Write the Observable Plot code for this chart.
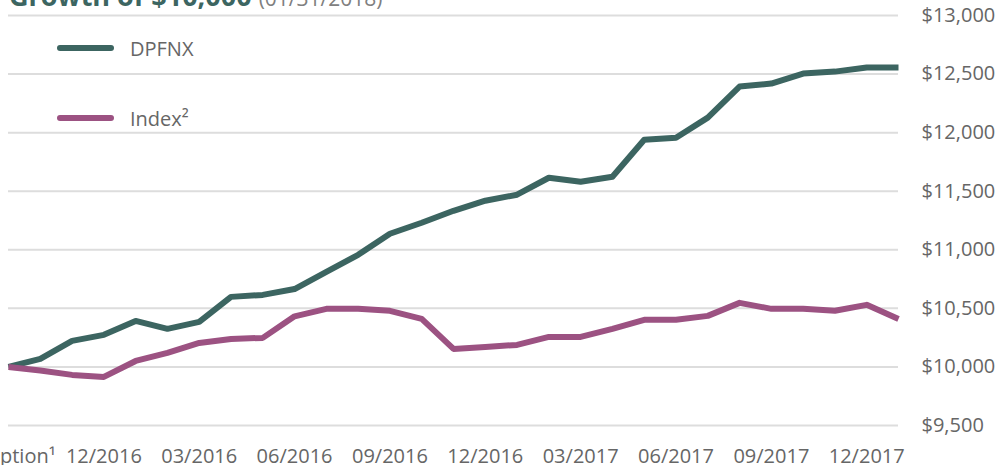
<!DOCTYPE html>
<html><head><meta charset="utf-8">
<script src="https://cdn.jsdelivr.net/npm/d3@7"></script>
<script src="https://cdn.jsdelivr.net/npm/@observablehq/plot@0.6"></script>
<style>
body{margin:0;background:#fff;font-family:"Open Sans",sans-serif;overflow:hidden}
#wrap{position:relative;width:1000px;height:465px;overflow:hidden}
#title{position:absolute;left:9px;top:-18px;font-size:27px;line-height:1;white-space:nowrap;color:#3c6561;font-weight:700}
#title span{font-weight:400;color:#808080;font-size:21px}
.leg{position:absolute;left:56px;height:24px;display:flex;align-items:center;font-size:20px;color:#666;white-space:nowrap}
.leg svg{margin-right:15px}
</style></head>
<body>
<div id="wrap">
<div id="chart"></div>
<div id="title">Growth of $10,000 <span>(01/31/2018)</span></div>
<div id="legend"></div>
</div>
<script>
const seriesNames = ["DPFNX", "Index²"];
const seriesColors = ["#3c6561", "#9c5282"];
const dpfnx = [10000,10068,10222,10274,10393,10325,10385,10598,10615,10665,10812,10957,11137,11231,11333,11419,11470,11615,11581,11624,11940,11957,12128,12393,12419,12504,12521,12556,12556];
const indexVals = [10000,9970,9932,9915,10051,10120,10205,10239,10248,10432,10496,10496,10479,10410,10154,10171,10188,10256,10256,10325,10402,10402,10436,10547,10496,10496,10479,10530,10410];
const xTickPos = [0,3,6,9,12,15,18,21,24,27];
const xLabels = ["Inception¹","12/2016","03/2016","06/2016","09/2016","12/2016","03/2017","06/2017","09/2017","12/2017"];
const yTicks = [9500,10000,10500,11000,11500,12000,12500,13000];

const rows = [];
dpfnx.forEach((v,i)=>rows.push({i, v, s: seriesNames[0]}));
indexVals.forEach((v,i)=>rows.push({i, v, s: seriesNames[1]}));

const chart = Plot.plot({
  width: 1000, height: 465,
  marginTop: 15, marginBottom: 40, marginLeft: 8, marginRight: 102,
  style: {fontFamily: "Open Sans", fontSize: "20px", color: "#666", background: "transparent", overflow: "visible"},
  x: {domain: [0, 28], axis: null},
  y: {domain: [9500, 13000], axis: null},
  color: {domain: seriesNames, range: seriesColors},
  marks: [
    Plot.ruleY(yTicks, {stroke: "#dddddd", strokeWidth: 2}),
    Plot.axisY(yTicks, {anchor: "right", label: null, tickSize: 0, tickPadding: 23, tickFormat: d => "$" + d3.format(",")(d), fontSize: 20}),
    Plot.axisX(xTickPos, {anchor: "bottom", label: null, tickSize: 0, tickPadding: 23, tickFormat: d => xLabels[xTickPos.indexOf(d)], fontSize: 20}),
    Plot.line(rows, {x: "i", y: "v", z: "s", stroke: "s", strokeWidth: 6, strokeLinejoin: "round", strokeLinecap: "butt"})
  ]
});
document.getElementById("chart").appendChild(chart);

const legend = document.getElementById("legend");
const legTops = [36, 106];
seriesNames.forEach((n, k) => {
  const d = document.createElement("div");
  d.className = "leg";
  d.style.top = legTops[k] + "px";
  d.innerHTML = `<svg width="59" height="10"><line x1="4" y1="5" x2="55" y2="5" stroke="${seriesColors[k]}" stroke-width="6" stroke-linecap="round"/></svg>${n}`;
  legend.appendChild(d);
});
</script>
</body></html>
